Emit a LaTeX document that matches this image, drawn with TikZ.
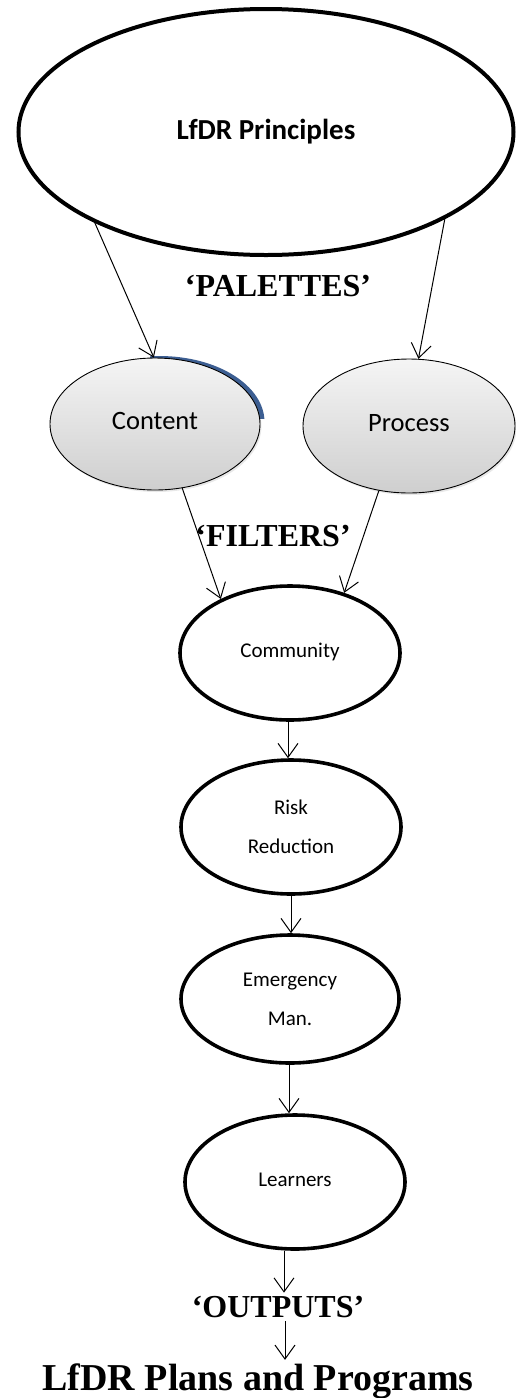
\documentclass[tikz,border=0pt]{standalone}
\usepackage{fontspec}
\setmainfont{Liberation Serif}
\newfontfamily\calib{Carlito}
\usetikzlibrary{arrows.meta,shapes.geometric,shadows,calc}
\definecolor{arcblue}{HTML}{3C5E92}
\tikzset{
  bigell/.style={ellipse, draw, line width=4pt, inner sep=0pt, minimum width=495pt, minimum height=246pt, font=\calib\bfseries\fontsize{29}{35}\selectfont},
  palette/.style={ellipse, draw, line width=0.9pt, inner sep=0pt, top color=gray!8, bottom color=gray!38, font=\calib\fontsize{26.5}{32}\selectfont, drop shadow={opacity=0.18, shadow xshift=1.5pt, shadow yshift=-2pt}},
  filterell/.style={ellipse, draw, line width=3.6pt, inner sep=0pt, minimum width=220pt, minimum height=134pt, align=center, font=\calib\fontsize{21}{39}\selectfont},
  heading/.style={font=\bfseries\fontsize{32}{36}\selectfont},
  conn/.style={line width=1pt, -{Straight Barb[length=14pt,width=20pt,line width=1pt]}},
}
\begin{document}
\begin{tikzpicture}[x=1pt,y=-1pt]
\useasboundingbox (0,0) rectangle (515,1398);
% blue crescent behind Content (top-right)
\begin{scope}
\clip (150,340) rectangle (275,418);
\fill[arcblue] (159.5,422) ellipse[x radius=105pt, y radius=66pt];
\end{scope}
\node[bigell] (top) at (266,132) {LfDR Principles};
\node[palette, minimum width=210pt, minimum height=132pt] (content) at (155,424) {\raisebox{7pt}{Content}};
\node[palette, minimum width=212pt, minimum height=134pt] (process) at (409,426) {\raisebox{7pt}{Process}};
\node[heading] (palettes) at (278,286) {‘PALETTES’};
\node[heading] (filters) at (273,536) {‘FILTERS’};
\node[filterell] (community) at (290,653) {\raisebox{5pt}{Community}};
\node[filterell] (risk) at (291,827) {Risk\\Reduction};
\node[filterell, minimum width=218pt, minimum height=128pt] (emerg) at (290,999) {Emergency\\Man.};
\node[filterell] (learners) at (295,1182) {\raisebox{5pt}{Learners}};
\node[heading] (outputs) at (278,1307) {‘OUTPUTS’};
\node[font=\bfseries\fontsize{38}{42}\selectfont] (plans) at (258,1381) {LfDR Plans and Programs};
% connectors
\draw[conn] (top.208) -- (content.91);
\draw[conn] (top.334) -- (process.82);
\draw[conn] (content.293) -- (community.142);
\draw[conn] (process.245) -- (community.48);
\draw[conn] ([xshift=-2pt]community.south) -- ([xshift=-3pt]risk.north);
\draw[conn] (risk.south) -- (risk.south |- emerg.north);
\draw[conn] ([xshift=-1pt]emerg.south) -- ([xshift=-1pt]emerg.south |- learners.north);
\draw[conn] ([xshift=-11pt]learners.south) -- ([xshift=6pt]outputs.north);
\draw[conn] ([xshift=7pt]outputs.south) -- ([xshift=27pt]plans.north);
\end{tikzpicture}
\end{document}
